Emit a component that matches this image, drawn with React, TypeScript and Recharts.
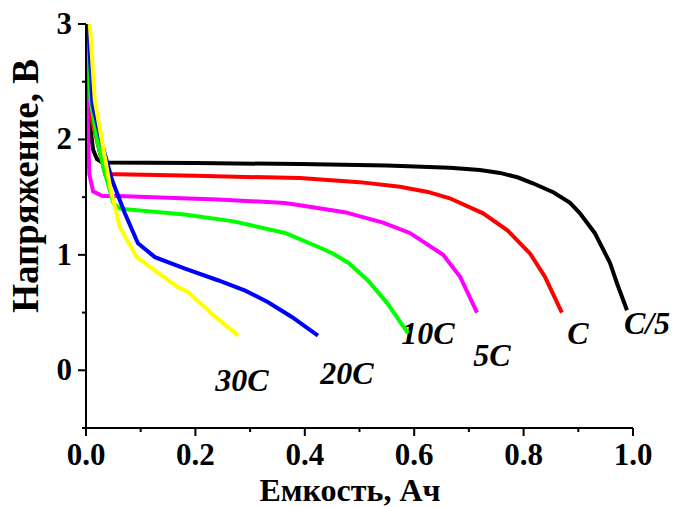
import { LineChart, Line, XAxis, YAxis } from "recharts";

// discharge curves: capacity (A·h) vs voltage (V)
const rateC5 = [
  { c: 0.0, v: 3.0 }, { c: 0.002, v: 2.4 }, { c: 0.008, v: 2.1 }, { c: 0.013, v: 1.91 },
  { c: 0.02, v: 1.83 }, { c: 0.03, v: 1.8 }, { c: 0.2, v: 1.795 }, { c: 0.391, v: 1.787 },
  { c: 0.55, v: 1.775 }, { c: 0.665, v: 1.755 }, { c: 0.72, v: 1.735 }, { c: 0.757, v: 1.71 },
  { c: 0.79, v: 1.67 }, { c: 0.817, v: 1.62 }, { c: 0.855, v: 1.54 }, { c: 0.885, v: 1.45 },
  { c: 0.903, v: 1.36 }, { c: 0.93, v: 1.19 }, { c: 0.958, v: 0.93 }, { c: 0.971, v: 0.75 },
  { c: 0.989, v: 0.52 },
];
const rate1C = [
  { c: 0.0, v: 3.0 }, { c: 0.002, v: 2.55 }, { c: 0.004, v: 2.3 }, { c: 0.035, v: 1.7 },
  { c: 0.2, v: 1.685 }, { c: 0.391, v: 1.665 }, { c: 0.5, v: 1.63 }, { c: 0.574, v: 1.59 },
  { c: 0.625, v: 1.545 }, { c: 0.665, v: 1.49 }, { c: 0.726, v: 1.36 }, { c: 0.771, v: 1.21 },
  { c: 0.812, v: 1.01 }, { c: 0.839, v: 0.81 }, { c: 0.87, v: 0.5 },
];
const rate5C = [
  { c: 0.001, v: 3.0 }, { c: 0.003, v: 2.2 }, { c: 0.006, v: 1.7 }, { c: 0.013, v: 1.55 },
  { c: 0.03, v: 1.51 }, { c: 0.0585, v: 1.51 }, { c: 0.241, v: 1.48 }, { c: 0.364, v: 1.45 },
  { c: 0.391, v: 1.43 }, { c: 0.473, v: 1.37 }, { c: 0.543, v: 1.28 }, { c: 0.592, v: 1.19 },
  { c: 0.653, v: 1.0 }, { c: 0.684, v: 0.81 }, { c: 0.715, v: 0.5 },
];
const rate10C = [
  { c: 0.003, v: 3.0 }, { c: 0.008, v: 2.35 }, { c: 0.02, v: 2.0 }, { c: 0.035, v: 1.7 },
  { c: 0.05, v: 1.45 }, { c: 0.062, v: 1.4 }, { c: 0.18, v: 1.35 }, { c: 0.27, v: 1.29 },
  { c: 0.364, v: 1.19 }, { c: 0.424, v: 1.07 }, { c: 0.452, v: 1.01 }, { c: 0.48, v: 0.93 },
  { c: 0.515, v: 0.78 }, { c: 0.551, v: 0.58 }, { c: 0.589, v: 0.32 },
];
const rate20C = [
  { c: 0.004, v: 3.0 }, { c: 0.012, v: 2.3 }, { c: 0.03, v: 1.95 }, { c: 0.0475, v: 1.65 },
  { c: 0.071, v: 1.36 }, { c: 0.095, v: 1.1 }, { c: 0.126, v: 0.98 }, { c: 0.181, v: 0.88 },
  { c: 0.241, v: 0.78 }, { c: 0.291, v: 0.69 }, { c: 0.333, v: 0.59 }, { c: 0.377, v: 0.46 },
  { c: 0.424, v: 0.3 },
];
const rate30C = [
  { c: 0.007, v: 3.0 }, { c: 0.016, v: 2.34 }, { c: 0.044, v: 1.59 }, { c: 0.062, v: 1.24 },
  { c: 0.093, v: 0.98 }, { c: 0.13, v: 0.85 }, { c: 0.168, v: 0.72 }, { c: 0.186, v: 0.68 },
  { c: 0.23, v: 0.49 }, { c: 0.278, v: 0.3 },
];

const xTicks = [0, 0.1, 0.2, 0.3, 0.4, 0.5, 0.6, 0.7, 0.8, 0.9, 1.0];
const xLabelled = [0, 0.2, 0.4, 0.6, 0.8, 1.0];
const yTicks = [-0.5, 0, 0.5, 1, 1.5, 2, 2.5, 3];
const yLabelled = [0, 1, 2, 3];

const FONT = '"Liberation Serif", "Times New Roman", serif';

const isIn = (list: number[], v: number) => list.some((t) => Math.abs(t - v) < 1e-6);

const XTick = (props: any) => {
  const { x, y, payload } = props;
  const major = isIn(xLabelled, payload.value);
  return (
    <g>
      <line x1={x} x2={x} y1={y} y2={y + (major ? 8 : 4)} stroke="#000" strokeWidth={2} />
      {major && (
        <text x={x} y={y + 37} textAnchor="middle" fontFamily={FONT} fontWeight="bold" fontSize={31} fill="#000">
          {payload.value.toFixed(1)}
        </text>
      )}
    </g>
  );
};

const YTick = (props: any) => {
  const { x, y, payload } = props;
  const major = isIn(yLabelled, payload.value);
  return (
    <g>
      <line x1={x - (major ? 8 : 4)} x2={x} y1={y} y2={y} stroke="#000" strokeWidth={2} />
      {major && (
        <text x={x - 14} y={y + 10} textAnchor="end" fontFamily={FONT} fontWeight="bold" fontSize={31} fill="#000">
          {payload.value}
        </text>
      )}
    </g>
  );
};

const curveLabel = { fontFamily: FONT, fontWeight: "bold", fontStyle: "italic", fontSize: 32, fill: "#000" } as const;

export default function App() {
  return (
    <div style={{ position: "absolute", left: 0, top: 0, background: "#fff" }}>
      <LineChart width={675} height={507} margin={{ top: 24, right: 42, bottom: 0, left: 0 }}>
        <XAxis
          dataKey="c"
          type="number"
          domain={[0, 1]}
          ticks={xTicks}
          height={79}
          tickSize={0}
          tickMargin={0}
          tickLine={false}
          tick={<XTick />}
          axisLine={{ stroke: "#000", strokeWidth: 2 }}
          allowDataOverflow
        />
        <YAxis
          dataKey="v"
          type="number"
          domain={[-0.5, 3]}
          ticks={yTicks}
          width={86}
          tickSize={0}
          tickMargin={0}
          tickLine={false}
          tick={<YTick />}
          axisLine={{ stroke: "#000", strokeWidth: 2 }}
          allowDataOverflow
        />
        <Line data={rateC5} dataKey="v" type="linear" stroke="#000000" strokeWidth={4} dot={false} isAnimationActive={false} />
        <Line data={rate1C} dataKey="v" type="linear" stroke="#ff0000" strokeWidth={4} dot={false} isAnimationActive={false} />
        <Line data={rate5C} dataKey="v" type="linear" stroke="#ff00ff" strokeWidth={4} dot={false} isAnimationActive={false} />
        <Line data={rate10C} dataKey="v" type="linear" stroke="#00ff00" strokeWidth={4} dot={false} isAnimationActive={false} />
        <Line data={rate20C} dataKey="v" type="linear" stroke="#0000ff" strokeWidth={4} dot={false} isAnimationActive={false} />
        <Line data={rate30C} dataKey="v" type="linear" stroke="#ffff00" strokeWidth={4} dot={false} isAnimationActive={false} />

        <text x={350} y={501} textAnchor="middle" fontFamily={FONT} fontWeight="bold" fontSize={32} fill="#000">
          Емкость, Ач
        </text>
        <text
          x={38}
          y={186}
          transform="rotate(-90 38 186)"
          textAnchor="middle"
          fontFamily={FONT}
          fontWeight="bold"
          fontSize={37}
          fill="#000"
        >
          Напряжение, В
        </text>

        <text x={242} y={391} textAnchor="middle" {...curveLabel}>30C</text>
        <text x={347} y={384} textAnchor="middle" {...curveLabel}>20C</text>
        <text x={428} y={344} textAnchor="middle" {...curveLabel}>10C</text>
        <text x={492} y={366} textAnchor="middle" {...curveLabel}>5C</text>
        <text x={578} y={344} textAnchor="middle" {...curveLabel}>C</text>
        <text x={647} y={334} textAnchor="middle" {...curveLabel}>C/5</text>
      </LineChart>
    </div>
  );
}
